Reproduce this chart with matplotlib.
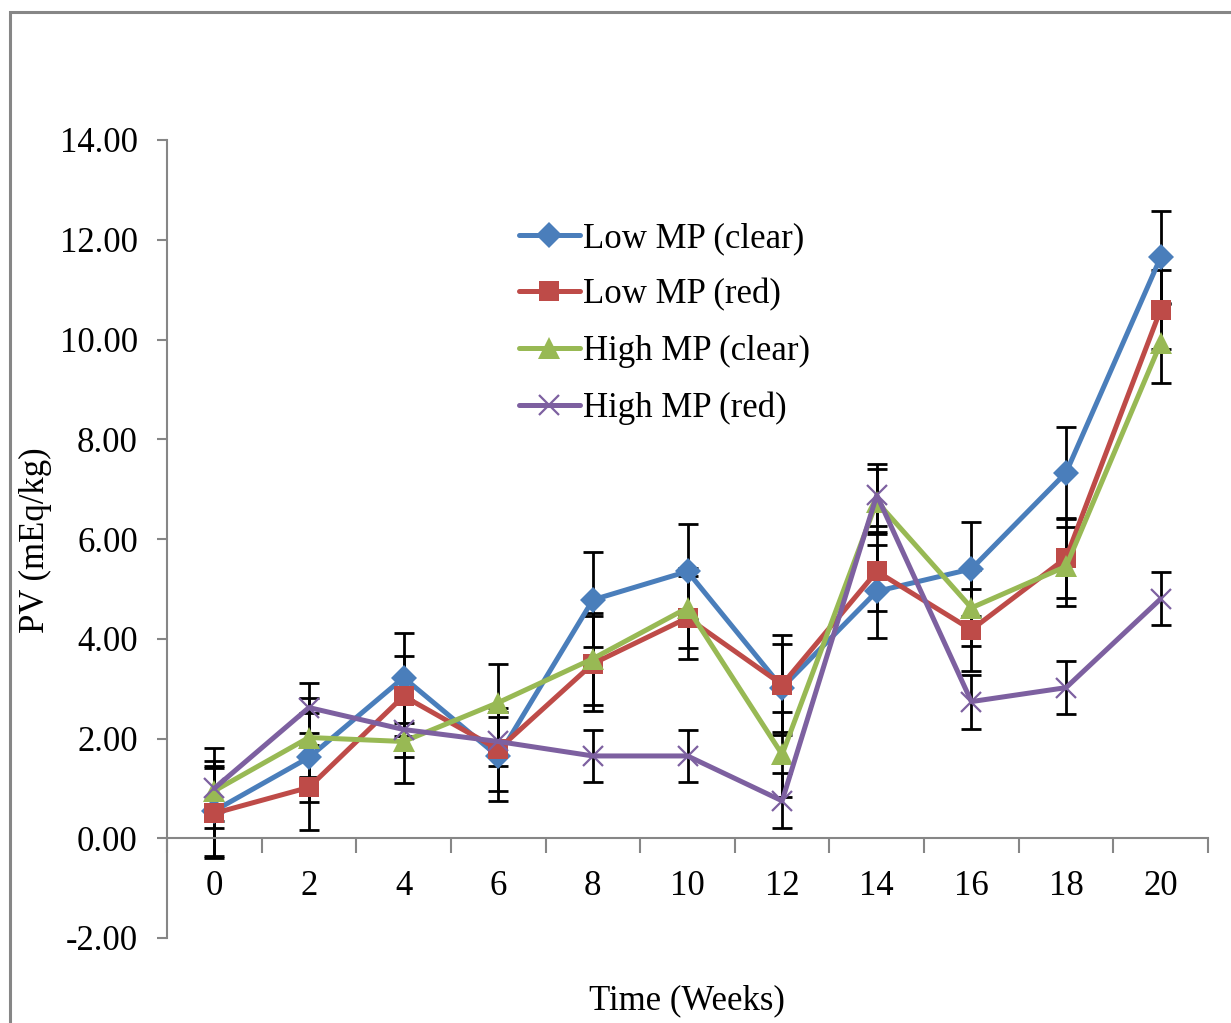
import matplotlib
matplotlib.use("Agg")
import matplotlib.pyplot as plt
from matplotlib.patches import Rectangle
from matplotlib.ticker import FixedLocator, FormatStrFormatter
import numpy as np

weeks = ['0', '2', '4', '6', '8', '10', '12', '14', '16', '18', '20']
series_names = ['Low MP (clear)', 'Low MP (red)', 'High MP (clear)', 'High MP (red)']
low_clear = [0.55, 1.62, 3.22, 1.64, 4.78, 5.35, 3.02, 4.95, 5.40, 7.33, 11.65]
low_clear_err = [0.90, 0.90, 0.90, 0.90, 0.95, 0.95, 0.88, 0.93, 0.95, 0.92, 0.93]
low_red = [0.50, 1.02, 2.85, 1.78, 3.50, 4.42, 3.08, 5.35, 4.18, 5.62, 10.60]
low_red_err = [0.90, 0.85, 0.80, 0.84, 0.95, 0.83, 1.00, 0.80, 0.82, 0.80, 0.80]
high_clear = [0.95, 2.02, 1.94, 2.72, 3.60, 4.62, 1.68, 6.75, 4.62, 5.45, 9.93]
high_clear_err = [0.60, 0.80, 0.84, 0.78, 0.92, 0.80, 0.85, 0.65, 0.76, 0.80, 0.80]
high_red = [1.00, 2.62, 2.18, 1.94, 1.65, 1.65, 0.75, 6.88, 2.74, 3.02, 4.80]
high_red_err = [0.80, 0.50, 0.55, 0.50, 0.53, 0.53, 0.55, 0.62, 0.54, 0.53, 0.53]

plt.rcParams['font.family'] = ['Liberation Serif', 'DejaVu Serif']

W, H = 1231, 1023
fig = plt.figure(figsize=(W / 100, H / 100), dpi=100)
ax = fig.add_axes([167 / W, 1 - 938 / H, (1208 - 167) / W, (938 - 140) / H])

x = np.arange(len(weeks))
styles = [
    dict(color='#4A7EBB', marker='D', ms=13, mew=0),
    dict(color='#BE4B48', marker='s', ms=15, mew=0),
    dict(color='#98B954', marker='^', ms=16, mew=0),
    dict(color='#7D60A0', marker='x', ms=15, mew=1.6),
]
values = [low_clear, low_red, high_clear, high_red]
errs = [low_clear_err, low_red_err, high_clear_err, high_red_err]

for i, (v, e, st, name) in enumerate(zip(values, errs, styles, series_names)):
    ax.errorbar(x, v, yerr=e, fmt='none', ecolor='black', elinewidth=2.0,
                capsize=7, capthick=2.0, zorder=2 + i * 0.1)
    ax.plot(x, v, color=st['color'], lw=3.6, marker=st['marker'], ms=st['ms'],
            mew=st['mew'], mec=st['color'], mfc=st['color'], label=name,
            zorder=3 + i * 0.1, solid_capstyle='round', solid_joinstyle='round')

ax.set_xlim(-0.5, len(weeks) - 0.5)
ax.set_ylim(-2, 14)

gray = '#868686'
for s in ['top', 'right']:
    ax.spines[s].set_visible(False)
ax.spines['bottom'].set_position(('data', 0))
ax.spines['bottom'].set_color(gray)
ax.spines['left'].set_color(gray)
ax.spines['bottom'].set_linewidth(1.5)
ax.spines['left'].set_linewidth(1.5)

ax.set_xticks(x)
ax.set_xticklabels(weeks)
ax.xaxis.set_minor_locator(FixedLocator(np.arange(-0.5, len(weeks), 1.0)))
ax.tick_params(axis='x', which='major', length=0, pad=23, labelsize=25)
ax.tick_params(axis='x', which='minor', length=11, width=1.5, color=gray, direction='out')

ax.set_yticks(np.arange(-2, 15, 2))
ax.yaxis.set_major_formatter(FormatStrFormatter('%.2f'))
ax.tick_params(axis='y', which='major', length=7, width=1.5, color=gray,
               direction='out', pad=14, labelsize=25)

leg = ax.legend(loc='upper left', bbox_to_anchor=((519 - 167) / 1041, (938 - 222) / 798),
                frameon=False, fontsize=25, handlelength=1.75, handletextpad=0.08,
                labelspacing=0.675, borderaxespad=0, borderpad=0)

fig.text(35 / W, 1 - 540 / H, 'PV (mEq/kg)', rotation=90, ha='center', va='center', fontsize=25)
fig.text(687 / W, 1 - 1001 / H, 'Time (Weeks)', ha='center', va='center', fontsize=25)

fig.patches.append(Rectangle((10 / W, -0.05), 1.2, 1 - 12 / H + 0.05, transform=fig.transFigure,
                             fill=False, edgecolor=gray, linewidth=2.2))

fig.savefig('out.png', dpi=100)
